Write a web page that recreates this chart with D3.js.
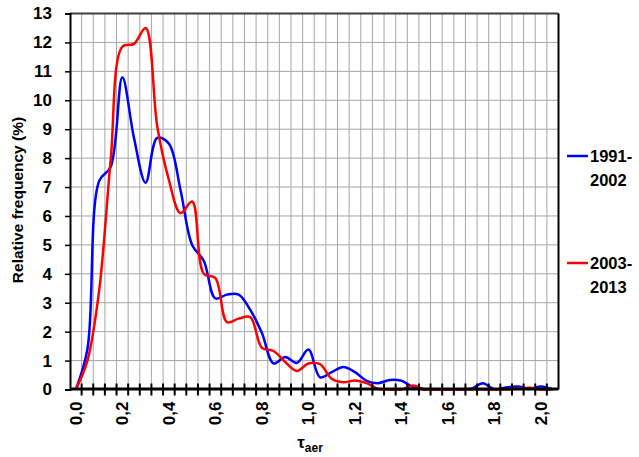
<!DOCTYPE html>
<html><head><meta charset="utf-8">
<script src="https://cdn.jsdelivr.net/npm/d3@7"></script>
<style>body{margin:0;background:#fff}svg{display:block}text{font-family:"Liberation Sans",Arial,sans-serif;font-weight:bold;fill:#000}</style>
</head><body>
<script>
const categories = ["0.00","0.05","0.10","0.15","0.20","0.25","0.30","0.35","0.40","0.45","0.50","0.55","0.60","0.65","0.70","0.75","0.80","0.85","0.90","0.95","1.00","1.05","1.10","1.15","1.20","1.25","1.30","1.35","1.40","1.45","1.50","1.55","1.60","1.65","1.70","1.75","1.80","1.85","1.90","1.95","2.00","2.05"];
const series1991 = [0,1.4,7.2,7.7,10.8,8.7,7.15,8.7,8.5,6.9,5.0,4.45,3.15,3.28,3.28,2.75,1.95,0.9,1.12,0.92,1.38,0.42,0.6,0.78,0.6,0.3,0.22,0.33,0.3,0.08,0,0,0,0,0.03,0.22,0,0.07,0.1,0.02,0.1,0];
const series2003 = [0,1.0,3.4,7.95,11.85,11.95,12.5,9.1,7.25,6.1,6.5,4.0,3.85,2.33,2.45,2.5,1.44,1.33,0.95,0.64,0.9,0.88,0.37,0.25,0.31,0.22,0.02,0,0,0.14,0,0,0,0,0,0,0,0,0.03,0.06,0,0];
const xTickCats = ["0.00","0.20","0.40","0.60","0.80","1.00","1.20","1.40","1.60","1.80","2.00"];
const xTickLabels = ["0,0","0,2","0,4","0,6","0,8","1,0","1,2","1,4","1,6","1,8","2,0"];
const yTicks = [0,1,2,3,4,5,6,7,8,9,10,11,12,13];
const seriesNames = [["1991-","2002"],["2003-","2013"]];
const colors = ["#0000ff","#ff0000"];

const W=639,H=457;
const L=70,R=558.5,T=13.5,B=389.5;
const svg=d3.select("body").append("svg").attr("width",W).attr("height",H);
const x=d3.scaleBand().domain(categories).range([L,R]).padding(0);
const y=d3.scaleLinear().domain([0,13]).range([B,T]);
const bw=x.bandwidth();

// grid
const g=svg.append("g");
g.selectAll(".vg").data(categories.slice(1)).enter().append("line")
 .attr("x1",d=>x(d)).attr("x2",d=>x(d)).attr("y1",T).attr("y2",B)
 .attr("stroke","#a6a6a6").attr("stroke-width",1);
g.selectAll(".hg").data(yTicks.slice(1,-1)).enter().append("line")
 .attr("x1",L).attr("x2",R).attr("y1",d=>y(d)).attr("y2",d=>y(d))
 .attr("stroke","#a6a6a6").attr("stroke-width",1);
// frame
svg.append("line").attr("x1",L).attr("x2",R).attr("y1",T).attr("y2",T).attr("stroke","#404040").attr("stroke-width",2);
svg.append("line").attr("x1",R).attr("x2",R).attr("y1",T).attr("y2",B).attr("stroke","#000").attr("stroke-width",2);

// lines
const line=d3.line().x((d,i)=>x(categories[i])+bw/2).y(d=>y(d)).curve(d3.curveCatmullRom.alpha(0.5));
[series1991,series2003].forEach((s,k)=>{
  svg.append("path").datum(s).attr("d",line).attr("fill","none")
   .attr("stroke",colors[k]).attr("stroke-width",2.5).attr("stroke-linejoin","round");
});

// y axis
const ya=svg.append("g").attr("transform",`translate(${L},0)`)
 .call(d3.axisLeft(y).tickValues(yTicks).tickSize(5).tickPadding(13).tickFormat(d3.format("d")));
ya.select(".domain").attr("stroke","#000").attr("stroke-width",2);
ya.selectAll(".tick line").attr("stroke","#000").attr("stroke-width",1.5);
ya.selectAll("text").style("font-size","17px").style("font-family","Liberation Sans").style("font-weight","bold");

// x axis
svg.append("line").attr("x1",L).attr("x2",R).attr("y1",B-0.5).attr("y2",B-0.5).attr("stroke","#000").attr("stroke-width",3);
svg.selectAll(".xt").data(categories.slice(1)).enter().append("line")
 .attr("x1",d=>x(d)).attr("x2",d=>x(d)).attr("y1",B-6).attr("y2",B+6)
 .attr("stroke","#000").attr("stroke-width",2);
const xa=svg.append("g").attr("transform",`translate(0,${B})`)
 .call(d3.axisBottom(x).tickValues(xTickCats).tickSize(0).tickFormat((d,i)=>xTickLabels[i]));
xa.select(".domain").remove();
xa.selectAll("text").attr("transform","rotate(-90)").attr("text-anchor","end")
 .attr("x",-12).attr("y",0).attr("dy","0.35em")
 .style("font-size","17px").style("font-family","Liberation Sans").style("font-weight","bold");

// titles
svg.append("text").attr("transform","translate(23,200) rotate(-90)").attr("text-anchor","middle")
 .style("font-size","15.5px").text("Relative frequency (%)");
const xt=svg.append("text").attr("x",310).attr("y",448).attr("text-anchor","middle").style("font-size","17px");
xt.append("tspan").text("τ");
xt.append("tspan").attr("dy",4).style("font-size","12px").text("aer");

// legend
const ly=[156,263];
seriesNames.forEach((nm,k)=>{
  svg.append("line").attr("x1",567).attr("x2",588).attr("y1",ly[k]).attr("y2",ly[k]).attr("stroke",colors[k]).attr("stroke-width",2.5);
  svg.append("text").attr("x",590).attr("y",ly[k]+6).style("font-size","16.5px").text(nm[0]);
  svg.append("text").attr("x",590).attr("y",ly[k]+30).style("font-size","16.5px").text(nm[1]);
});
</script>
</body></html>
